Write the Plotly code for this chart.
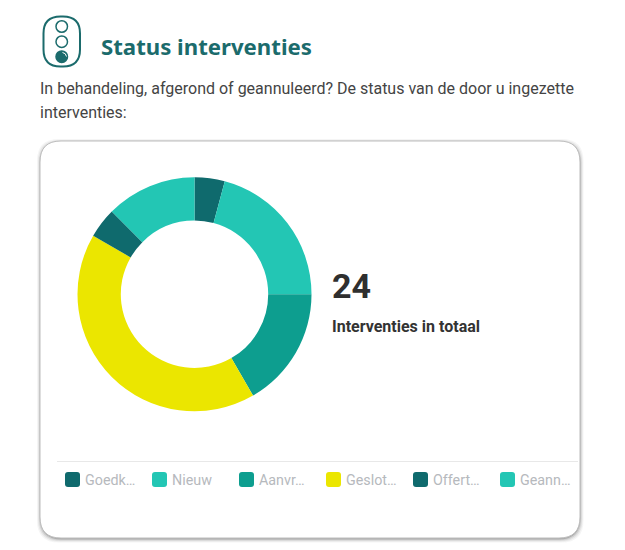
import plotly.graph_objects as go

# values (24 in total)
statussen = ["Goedk…", "Nieuw", "Aanvr…", "Geslot…", "Offert…", "Geann…"]
aantallen = [1, 5, 4, 10, 1, 3]
kleuren = ["#0f6a6d", "#23c6b4", "#0d9e8f", "#ebe600", "#0f6a6d", "#23c6b4"]

totaal = "24"
titel = "Status interventies"
intro_1 = "In behandeling, afgerond of geannuleerd? De status van de door u ingezette"
intro_2 = "interventies:"
onderschrift = "Interventies in totaal"

W, H = 625, 550
TEAL = "#1b6b6c"


def rond_pad(x0, y0, x1, y1, r):
    return (f"M{x0+r},{y0} L{x1-r},{y0} Q{x1},{y0} {x1},{y0+r} L{x1},{y1-r} Q{x1},{y1} {x1-r},{y1} "
            f"L{x0+r},{y1} Q{x0},{y1} {x0},{y1-r} L{x0},{y0+r} Q{x0},{y0} {x0+r},{y0} Z")


fig = go.Figure()
fig.add_trace(go.Pie(
    labels=statussen, values=aantallen, sort=False, direction="clockwise", rotation=0,
    hole=0.63, marker=dict(colors=kleuren, line=dict(width=0)), textinfo="none",
    domain=dict(x=[77.5 / W, 311.5 / W], y=[1 - 411.5 / H, 1 - 177 / H]),
    showlegend=False,
))

vormen = []
# schaduw van de kaart
for d, op in [(4, 0.05), (3, 0.08), (2, 0.13), (1, 0.24)]:
    vormen.append(dict(type="path", path=rond_pad(40 - d + 1, 141 - d + 2, 580 + d - 0.5, 538.5 + d, 22),
                       fillcolor=f"rgba(60,60,60,{op})", line_width=0, layer="below"))
vormen.append(dict(type="path", path=rond_pad(40, 141, 580, 538, 21), fillcolor="white",
                   line=dict(color="#bdbdbd", width=1), layer="below"))
vormen.append(dict(type="line", x0=57, x1=578, y0=461.5, y1=461.5, line=dict(color="#e8e8e8", width=1)))

# stoplicht icoon
vormen.append(dict(type="path", path=rond_pad(43.5, 16.5, 80, 66.5, 17), line=dict(color=TEAL, width=2)))
for cy, vol in [(26.5, False), (41.7, False), (56.7, True)]:
    vormen.append(dict(type="circle", x0=56, x1=67.5, y0=cy - 5.8, y1=cy + 5.8,
                       fillcolor=TEAL if vol else "white", line=dict(color=TEAL, width=1.5)))
vormen.append(dict(type="path", path="M62.5,52.5 Q66,53 66.5,56.5", line=dict(color="white", width=1)))

teksten = [
    dict(x=99, y=46, text=titel, font=dict(family="Noto Sans", size=22.2, color=TEAL, weight=700)),
    dict(x=38, y=88, text=intro_1, font=dict(family="Roboto", size=16, color="#444444")),
    dict(x=38, y=112, text=intro_2, font=dict(family="Roboto", size=16, color="#444444")),
    dict(x=330, y=286, text=totaal, font=dict(family="Roboto", size=34, color="#2f2f2f", weight=700)),
    dict(x=330, y=326, text=onderschrift, font=dict(family="Roboto", size=16, color="#333333", weight=700)),
]

# legenda
for i, (naam, kleur) in enumerate(zip(statussen, kleuren)):
    lx = 65 + 87 * i
    vormen.append(dict(type="path", path=rond_pad(lx, 472, lx + 15, 487, 3), fillcolor=kleur, line_width=0))
    teksten.append(dict(x=lx + 17.5, y=479.5, text=naam,
                        font=dict(family="Roboto", size=14.3, color="#b6b9bd")))

for t in teksten:
    t.update(xref="x", yref="y", xanchor="left", yanchor="middle", showarrow=False)

fig.update_layout(
    width=W, height=H, margin=dict(l=0, r=0, t=0, b=0),
    paper_bgcolor="white", plot_bgcolor="white",
    xaxis=dict(range=[0, W], visible=False, fixedrange=True),
    yaxis=dict(range=[H, 0], visible=False, fixedrange=True),
    shapes=vormen, annotations=teksten,
)
fig.write_html("out.html", config=dict(displayModeBar=False),
               post_script="document.body.style.margin='0';document.body.style.overflow='hidden';")
